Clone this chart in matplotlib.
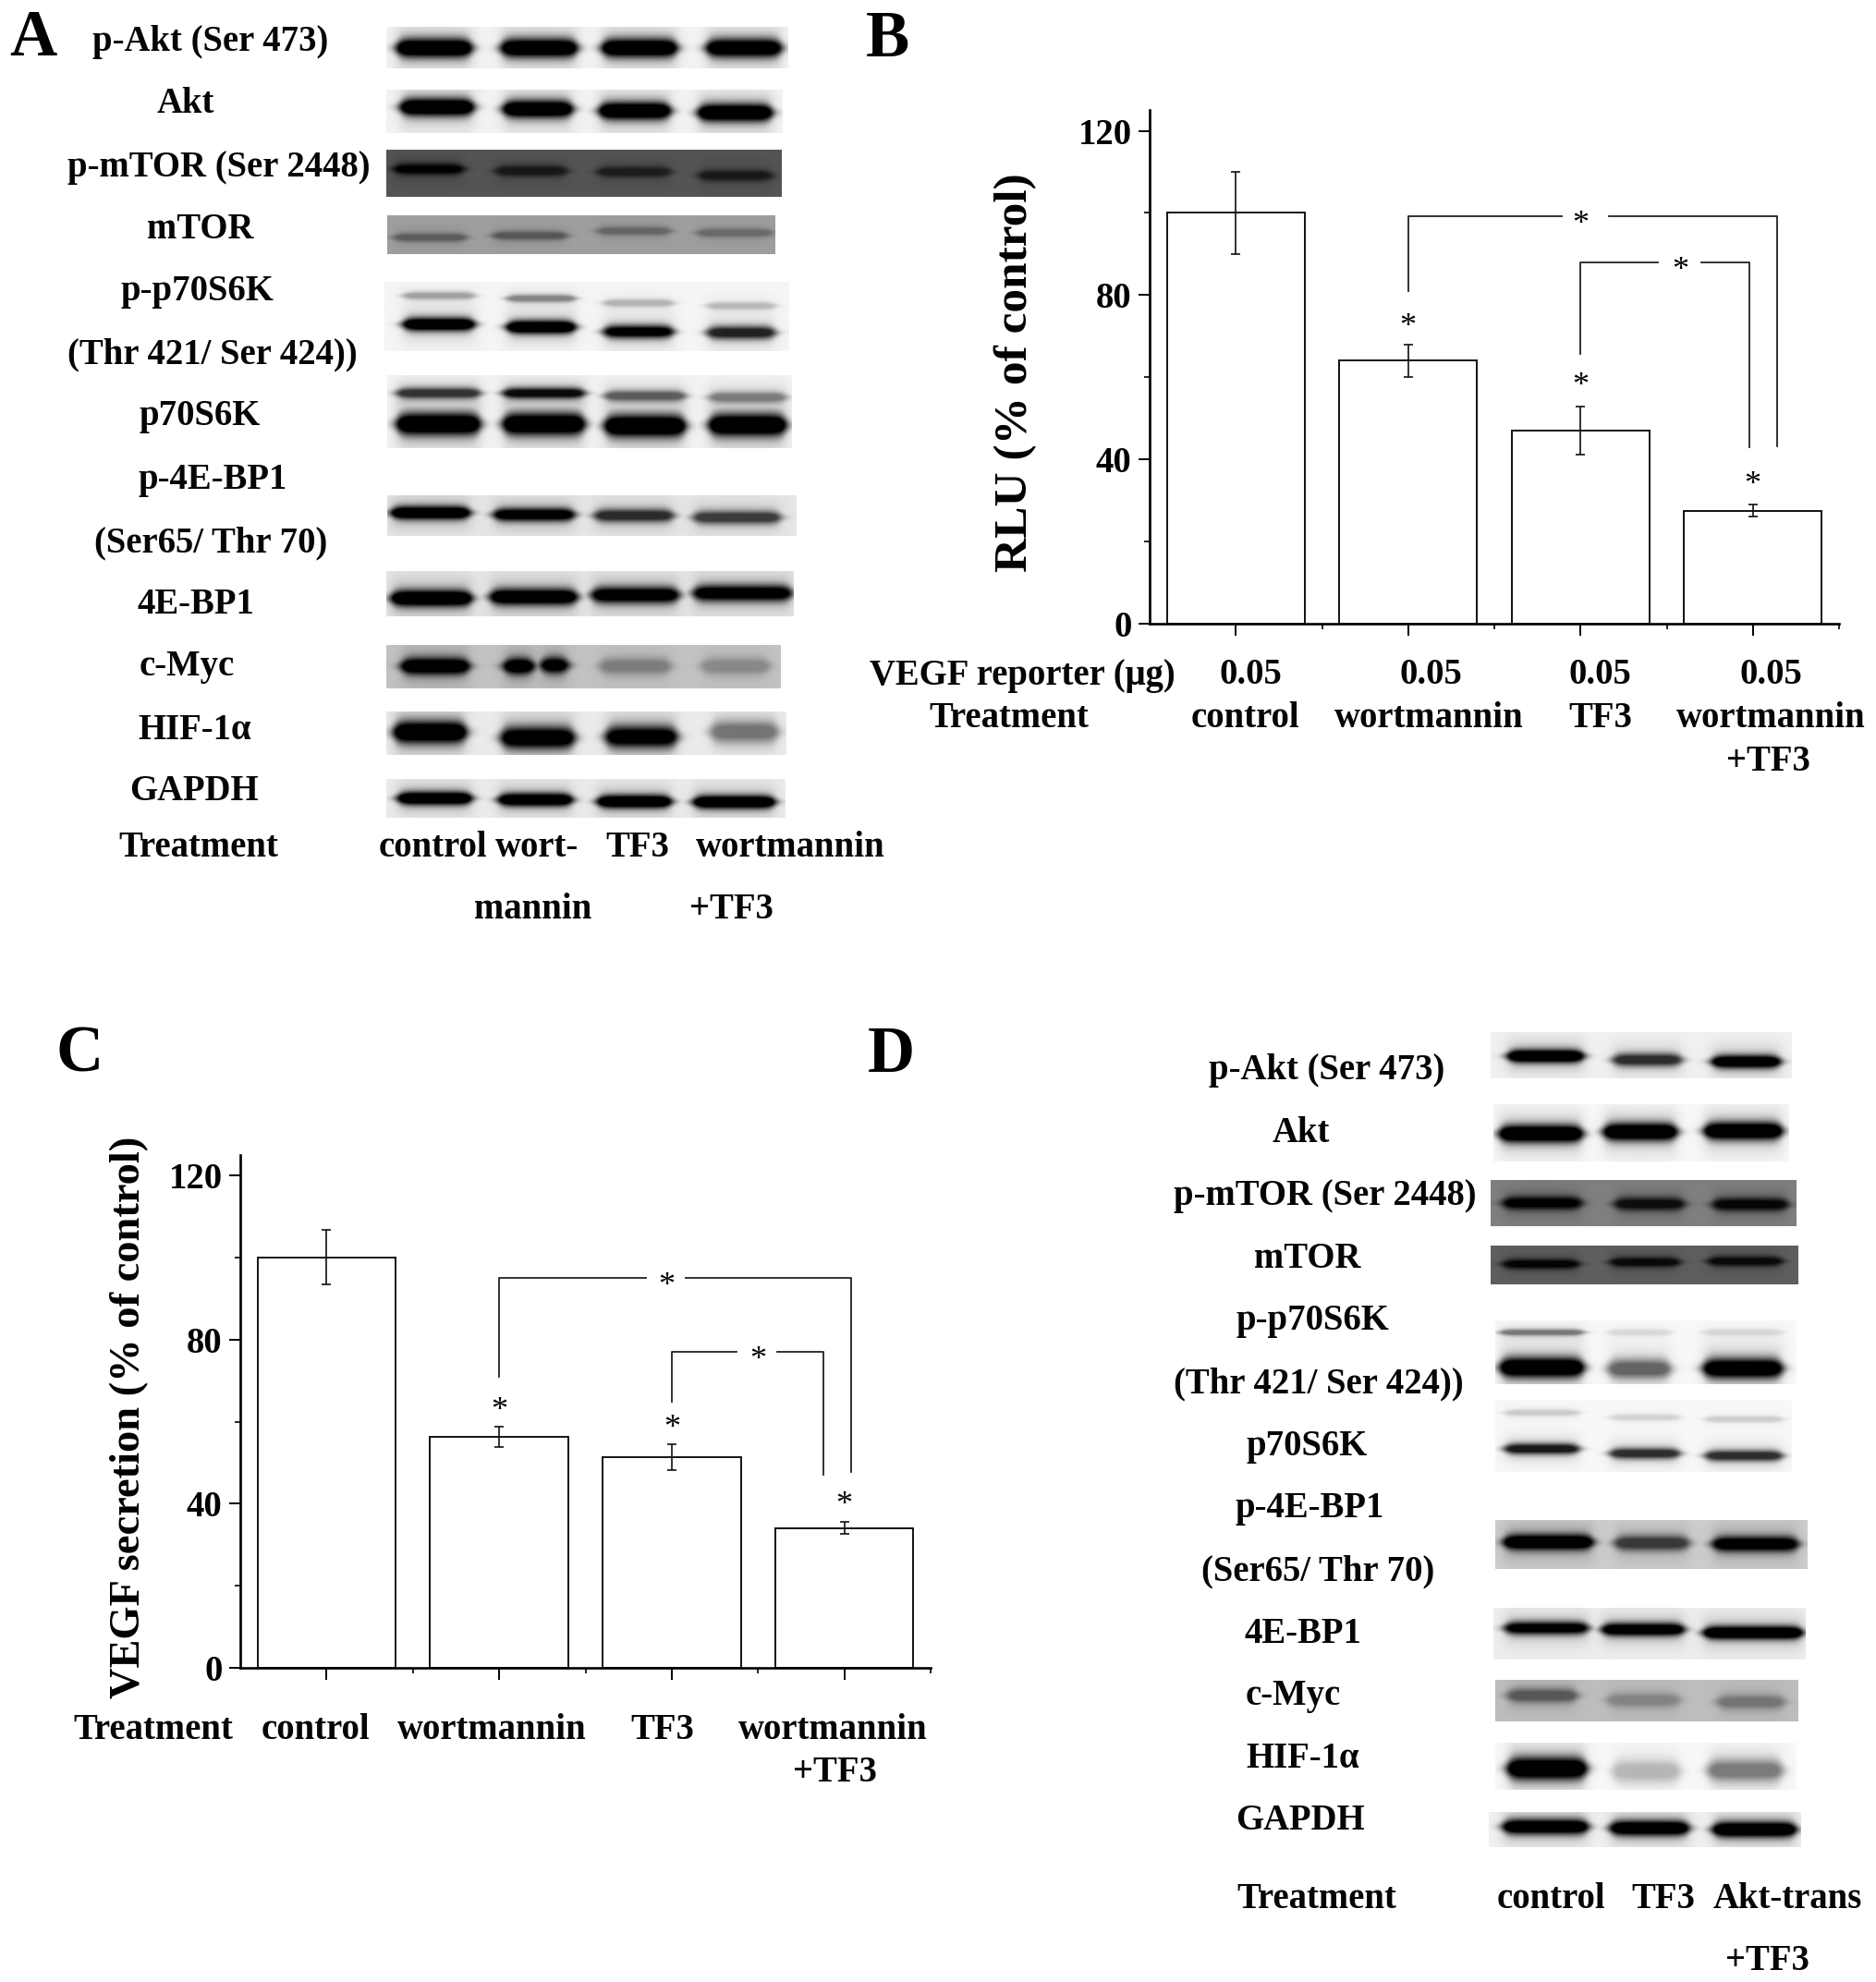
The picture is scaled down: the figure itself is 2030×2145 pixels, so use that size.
#!/usr/bin/env python3
"""Four panel figure: western blots (A, D) and bar charts (B, C)."""

import numpy as np
import matplotlib
matplotlib.use('Agg')
import matplotlib.pyplot as plt

WIDTH, HEIGHT = 2031, 2145

plt.rcParams['font.family'] = ['Liberation Serif', 'DejaVu Serif']
plt.rcParams['font.weight'] = 'bold'
TEXT_SIZE = 27.9

# bar chart values
BAR_X = [0, 1, 2, 3]
B_VALUES = [100, 64, 47, 27.5]
B_ERRORS = [10, 4, 5.9, 1.5]
C_VALUES = [100, 56.3, 51.4, 34.1]
C_ERRORS = [6.6, 2.5, 3.1, 1.4]
Y_TICKS = [0, 40, 80, 120]
Y_MINOR = [20, 60, 100]

# significance marks: x, y of each star above a bar
B_STAR_X = [1, 2, 3]
B_STAR_Y = [74.3, 59.9, 35.8]
C_STAR_X = [1, 2, 3]
C_STAR_Y = [64.6, 60.4, 41.6]

# brackets: x left, x right, y top, y end left, y end right, gap left, gap right, star x
B_BRACKETS = [(1.0, 3.14, 99.3, 80.9, 43.2, 1.89, 2.165, 2.0),
              (2.0, 2.98, 88.0, 65.7, 43.0, 2.45, 2.70, 2.58)]
C_BRACKETS = [(1.0, 3.04, 94.9, 70.9, 47.7, 1.853, 2.08, 1.97),
              (2.0, 2.877, 76.9, 64.9, 47.0, 2.375, 2.61, 2.5)]

# band strength per lane, 0 nothing, 1 black (panel A)
A_P_AKT = [1, 0.98, 0.98, 0.95]
A_AKT = [1, 0.98, 1, 1]
A_P_MTOR = [0.85, 0.6, 0.55, 0.6]
A_MTOR = [0.35, 0.38, 0.3, 0.28]
A_P_P70_UP = [0.28, 0.38, 0.22, 0.2]
A_P_P70_LOW = [0.98, 1, 0.85, 0.72]
A_P70_UP = [0.65, 0.8, 0.5, 0.38]
A_P70_LOW = [1, 1, 1, 1]
A_P_4E = [1, 0.9, 0.68, 0.62]
A_4E = [1, 0.95, 0.9, 0.88]
A_MYC = [1, 1, 0.95, 0.3, 0.25]
A_HIF = [1, 0.92, 0.88, 0.42]
A_GAPDH = [1, 0.98, 1, 1]

# band strength per lane (panel D)
D_P_AKT = [1, 0.68, 0.95]
D_AKT = [1, 1, 1]
D_P_MTOR = [0.85, 0.75, 0.8]
D_MTOR = [0.8, 0.75, 0.75]
D_P_P70_UP = [0.42, 0.1, 0.1]
D_P_P70_LOW = [1, 0.5, 0.95]
D_P70_UP = [0.15, 0.12, 0.14]
D_P70_LOW = [0.75, 0.68, 0.68]
D_P_4E = [1, 0.6, 0.9]
D_4E = [0.85, 0.92, 1]
D_MYC = [0.45, 0.25, 0.32]
D_HIF = [1, 0.22, 0.42]
D_GAPDH = [0.95, 0.95, 1]

# text labels
A_NAMES = ['p-Akt (Ser 473)', 'Akt', 'p-mTOR (Ser 2448)', 'mTOR', 'p-p70S6K',
           '(Thr 421/ Ser 424))', 'p70S6K', 'p-4E-BP1', '(Ser65/ Thr 70)', '4E-BP1',
           'c-Myc', 'HIF-1α', 'GAPDH', 'Treatment', 'control', 'wort-', 'TF3',
           'wortmannin', 'mannin', '+TF3']
A_NAME_X = [228, 201, 237, 217, 213, 230, 216, 230, 228, 212, 202, 211, 210, 215,
            468, 581, 689.5, 855, 577, 791]
A_NAME_Y = [55.5, 122.5, 191.5, 257.5, 325, 393, 460, 529, 597, 664, 731, 800, 866, 927,
            927, 927, 927, 927, 994, 994]

B_NAMES = ['VEGF reporter (μg)', '0.05', '0.05', '0.05', '0.05', 'Treatment',
           'control', 'wortmannin', 'TF3', 'wortmannin', '+TF3']
B_NAME_X = [1106, 1353.5, 1548, 1731, 1916, 1092, 1347, 1546.6, 1732, 1916, 1913]
B_NAME_Y = [740.5, 740.5, 740.5, 740.5, 740.5, 787, 787, 787, 787, 787, 834]

C_NAMES = ['Treatment', 'control', 'wortmannin', 'TF3', 'wortmannin', '+TF3']
C_NAME_X = [165.6, 341, 532, 717, 901, 903.5]
C_NAME_Y = [1881.6, 1881.6, 1881.6, 1881.6, 1881.6, 1927.5]

D_NAMES = ['p-Akt (Ser 473)', 'Akt', 'p-mTOR (Ser 2448)', 'mTOR', 'p-p70S6K',
           '(Thr 421/ Ser 424))', 'p70S6K', 'p-4E-BP1', '(Ser65/ Thr 70)', '4E-BP1',
           'c-Myc', 'HIF-1α', 'GAPDH', 'Treatment', 'control', 'TF3', 'Akt-trans', '+TF3']
D_NAME_X = [1436, 1407.5, 1434, 1414.6, 1420, 1427, 1414, 1417, 1426, 1409.5, 1399,
            1409.5, 1406.5, 1425, 1678, 1800, 1934, 1912]
D_NAME_Y = [1168, 1236, 1304, 1372, 1439, 1507, 1575, 1642, 1710, 1778, 1845, 1913,
            1980, 2065, 2065, 2065, 2065, 2132]


def draw_blot(ax, box, bg, layers):
    """Paints one blot strip. Each layer is (strengths, band y, lanes, half thickness)."""
    x0, x1, y0, y1 = box
    xx, yy = np.meshgrid(np.arange(x0, x1) + 0.5, np.arange(y0, y1) + 0.5)
    dark = np.zeros(xx.shape)
    for strengths, band_y, lanes, thick in layers:
        thick = thick * 1.2
        for s, yc, (l0, l1) in zip(strengths, band_y, lanes):
            edge = 0.5 * (np.tanh((xx - l0) / 7.0) - np.tanh((xx - l1) / 7.0))
            h = thick * (0.4 + 0.6 * edge)
            core = np.exp(-np.abs((yy - yc) / h) ** 2.0) * edge
            halo = np.exp(-((yy - yc) / (thick * 2.4)) ** 2) * edge
            dark = np.maximum(dark, np.minimum(1.25 * s * core, s)) + 0.2 * s * halo * (1 - dark)
    img = bg * (1 - np.clip(dark, 0, 1))
    ax.imshow(img, cmap='gray', vmin=0, vmax=1, extent=(x0, x1, y1, y0),
              aspect='auto', interpolation='bilinear', zorder=1)


def draw_bars(fig, bottom_px, left_px, right_px, values, errors, star_x, star_y, brackets):
    top_px = bottom_px - 125 * 533.5 / 120
    ax = fig.add_axes([left_px / WIDTH, 1 - bottom_px / HEIGHT,
                       (right_px - left_px) / WIDTH, (bottom_px - top_px) / HEIGHT])
    ax.patch.set_alpha(0)
    ax.bar(BAR_X, values, width=0.8, color='white', edgecolor='#111111', linewidth=1.4)
    ax.errorbar(BAR_X, values, yerr=errors, fmt='none', ecolor='#111111',
                elinewidth=1.2, capsize=3.5, capthick=1.2)
    ax.set_xlim(-0.5, 3.5)
    ax.set_ylim(0, 125)
    ax.set_xticks(BAR_X)
    ax.set_xticklabels([])
    ax.set_xticks([0.5, 1.5, 2.5, 3.5], minor=True)
    ax.set_yticks(Y_TICKS)
    ax.set_yticks(Y_MINOR, minor=True)
    ax.tick_params(axis='x', which='major', length=9, width=1.4)
    ax.tick_params(axis='y', which='major', length=9, width=1.4, labelsize=TEXT_SIZE, pad=5)
    ax.tick_params(which='minor', length=4.5, width=1.2)
    for side in ['top', 'right']:
        ax.spines[side].set_visible(False)
    for side in ['left', 'bottom']:
        ax.spines[side].set_linewidth(1.9)

    for x, y in zip(star_x, star_y):
        ax.annotate('*', (x, y), xytext=(0, -13), textcoords='offset points', ha='center',
                    va='baseline', fontsize=26, fontweight='normal', annotation_clip=False)
    for xl, xr, top, end_l, end_r, gap_l, gap_r, star in brackets:
        ax.plot([xl, xl, gap_l], [end_l, top, top], color='#222222', lw=1.3)
        ax.plot([gap_r, xr, xr], [top, top, end_r], color='#222222', lw=1.3)
        ax.annotate('*', (star, top), xytext=(0, -13), textcoords='offset points',
                    ha='center', va='baseline', fontsize=26, fontweight='normal')
    return ax


def main():
    fig = plt.figure(figsize=(WIDTH / 100, HEIGHT / 100), dpi=100, facecolor='white')
    canvas = fig.add_axes([0, 0, 1, 1])
    canvas.axis('off')

    # Panel A blots
    lanes_a = [(429, 511), (542, 625), (651, 733), (764, 846)]
    draw_blot(canvas, (418, 853, 29, 74), 0.95, [(A_P_AKT, [52, 52, 52, 52], lanes_a, 8.5)])
    lanes = [(433, 513), (544, 620), (648, 726), (755, 836)]
    draw_blot(canvas, (418, 847, 97, 144), 0.95, [(A_AKT, [116, 118, 120, 122], lanes, 8)])
    lanes = [(426, 502), (536, 614), (646, 726), (756, 836)]
    draw_blot(canvas, (418, 846, 162, 213), 0.33, [(A_P_MTOR, [183, 185, 186, 190], lanes, 5)])
    lanes = [(426, 505), (533, 614), (646, 726), (754, 836)]
    draw_blot(canvas, (419, 839, 233, 275), 0.62, [(A_MTOR, [257, 255, 250, 252], lanes, 4)])
    lanes = [(436, 514), (548, 623), (653, 729), (765, 839)]
    draw_blot(canvas, (416, 854, 305, 380), 0.96, [(A_P_P70_UP, [320, 323, 328, 331], lanes, 3.5),
                                                   (A_P_P70_LOW, [351, 354, 359, 360], lanes, 6)])
    lanes = [(429, 520), (544, 633), (654, 742), (767, 851)]
    draw_blot(canvas, (419, 857, 406, 485), 0.95, [(A_P70_UP, [425.5, 425.5, 428.5, 430], lanes, 5),
                                                   (A_P70_LOW, [459, 459, 461, 460], lanes, 10)])
    lanes = [(423, 509), (534, 622), (643, 729), (750, 845)]
    draw_blot(canvas, (419, 862, 536, 580), 0.9, [(A_P_4E, [555, 557, 558, 560], lanes, 6)])
    lanes = [(423, 511), (530, 625), (640, 735), (750, 857)]
    draw_blot(canvas, (418, 859, 618, 667), 0.9, [(A_4E, [647.5, 646, 644, 642], lanes, 7.5)])
    lanes = [(434, 508), (545, 578), (585, 615), (649, 726), (759, 833)]
    draw_blot(canvas, (418, 845, 698, 745), 0.76, [(A_MYC, [721, 721, 720, 721, 721], lanes, 7.5)])
    lanes = [(426, 505), (542, 622), (655, 733), (769, 842)]
    draw_blot(canvas, (418, 851, 770, 817), 0.92, [(A_HIF, [792.5, 798.5, 797.5, 792], lanes, 10)])
    lanes = [(430, 511), (539, 620), (646, 727), (750, 839)]
    draw_blot(canvas, (418, 850, 843, 885), 0.92, [(A_GAPDH, [864, 865.5, 867.5, 868], lanes, 6)])

    # Panel D blots
    lanes = [(1631, 1714), (1745, 1820), (1852, 1927)]
    draw_blot(canvas, (1613, 1939, 1117, 1167), 0.94, [(D_P_AKT, [1143, 1147, 1149], lanes, 6)])
    lanes = [(1622, 1713), (1735, 1815), (1844, 1929)]
    draw_blot(canvas, (1616, 1936, 1195, 1257), 0.97, [(D_AKT, [1227, 1225, 1224], lanes, 8)])
    lanes = [(1626, 1712), (1747, 1823), (1853, 1935)]
    draw_blot(canvas, (1613, 1944, 1277, 1327), 0.5, [(D_P_MTOR, [1302, 1303, 1303.5], lanes, 6)])
    lanes = [(1626, 1709), (1742, 1818), (1848, 1929)]
    draw_blot(canvas, (1613, 1946, 1348, 1390), 0.37, [(D_MTOR, [1368, 1366, 1365], lanes, 4.5)])
    lanes = [(1623, 1714), (1740, 1808), (1843, 1929)]
    draw_blot(canvas, (1618, 1944, 1429, 1498), 0.97, [(D_P_P70_UP, [1442, 1442, 1442], lanes, 3),
                                                       (D_P_P70_LOW, [1480, 1481.5, 1481], lanes, 9)])
    lanes = [(1628, 1709), (1742, 1818), (1845, 1929)]
    draw_blot(canvas, (1618, 1939, 1515, 1593), 0.97, [(D_P70_UP, [1529, 1534, 1536], lanes, 3),
                                                       (D_P70_LOW, [1568, 1573, 1575.5], lanes, 5)])
    lanes = [(1627, 1724), (1747, 1828), (1853, 1946)]
    draw_blot(canvas, (1618, 1956, 1645, 1698), 0.8, [(D_P_4E, [1669, 1670, 1671], lanes, 7)])
    lanes = [(1628, 1719), (1733, 1823), (1843, 1951)]
    draw_blot(canvas, (1616, 1954, 1740, 1796), 0.93, [(D_4E, [1762, 1763.5, 1767], lanes, 6)])
    lanes = [(1631, 1707), (1739, 1818), (1858, 1931)]
    draw_blot(canvas, (1618, 1946, 1818, 1863), 0.74, [(D_MYC, [1835, 1840, 1842], lanes, 6.5)])
    lanes = [(1631, 1717), (1745, 1818), (1848, 1929)]
    draw_blot(canvas, (1618, 1944, 1886, 1937), 0.97, [(D_HIF, [1914, 1917, 1916], lanes, 10)])
    lanes = [(1626, 1719), (1742, 1828), (1853, 1944)]
    draw_blot(canvas, (1611, 1949, 1961, 1999), 0.94, [(D_GAPDH, [1977, 1978.5, 1980], lanes, 7)])

    canvas.set_xlim(0, WIDTH)
    canvas.set_ylim(HEIGHT, 0)

    # Text
    for names, xs, ys in [(A_NAMES, A_NAME_X, A_NAME_Y), (B_NAMES, B_NAME_X, B_NAME_Y),
                          (C_NAMES, C_NAME_X, C_NAME_Y), (D_NAMES, D_NAME_X, D_NAME_Y)]:
        for name, x, y in zip(names, xs, ys):
            canvas.text(x, y, name, ha='center', va='baseline', fontsize=TEXT_SIZE, color='#050505')

    for letter, x, y in [('A', 35.5, 60), ('B', 961, 61), ('C', 86.5, 1160), ('D', 964, 1160)]:
        canvas.text(x, y, letter, ha='center', va='baseline', fontsize=51, color='black')

    canvas.text(1098.5, 403, 'RLU (% of control)', rotation=90, ha='center', va='center', fontsize=37)
    canvas.text(140, 1534, 'VEGF secretion (% of control)', rotation=90, ha='center', va='center', fontsize=33.5)

    # Bar charts
    draw_bars(fig, 675, 1244, 1990, B_VALUES, B_ERRORS, B_STAR_X, B_STAR_Y, B_BRACKETS)
    draw_bars(fig, 1805.3, 260, 1007, C_VALUES, C_ERRORS, C_STAR_X, C_STAR_Y, C_BRACKETS)

    fig.savefig('out.png', dpi=100)


if __name__ == "__main__":
    main()
